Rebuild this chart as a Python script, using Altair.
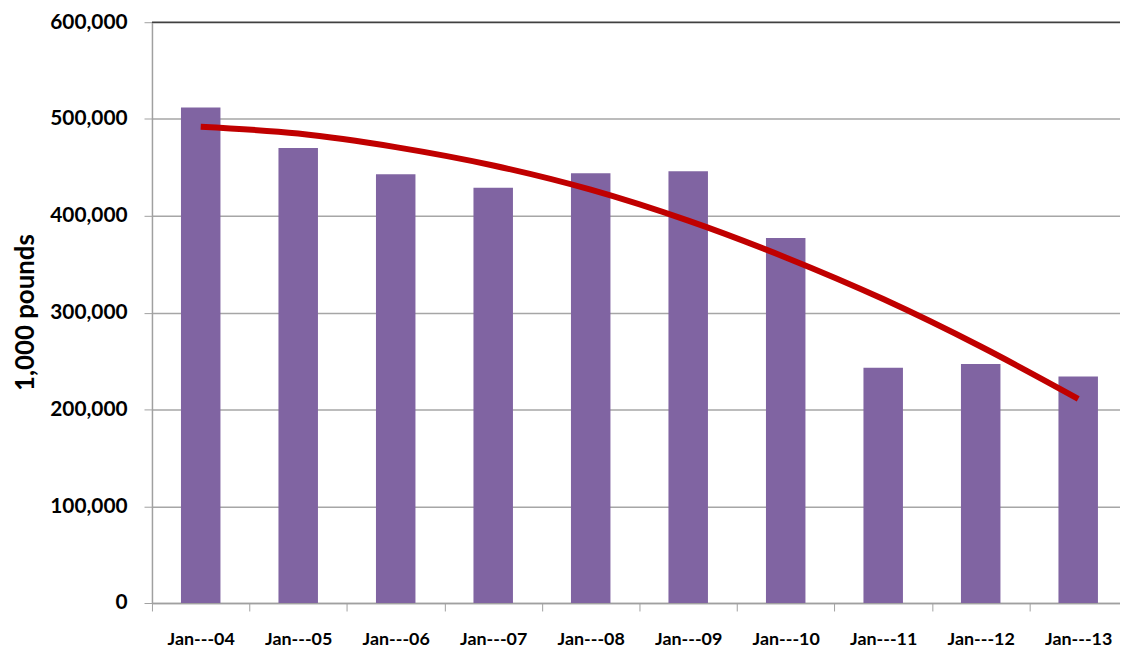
import altair as alt
import pandas as pd

categories = ["Jan---04", "Jan---05", "Jan---06", "Jan---07", "Jan---08",
              "Jan---09", "Jan---10", "Jan---11", "Jan---12", "Jan---13"]
values = [512000, 470000, 443000, 429000, 444000, 446000, 377000, 243000, 247000, 234000]
trend = [492000, 485000, 471000, 452000, 427000, 395000, 357000, 314000, 265000, 211000]
y_ticks = [0, 100000, 200000, 300000, 400000, 500000, 600000]
top_line = [600000]

df = pd.DataFrame({"month": categories, "value": values, "trend": trend})
df_top = pd.DataFrame({"v": top_line})

FONT = "Lato"

xscale = alt.Scale(paddingInner=0, paddingOuter=0, range=[0, 982])

xenc = alt.X(
    "month:N", sort=categories, title=None, scale=xscale,
    axis=alt.Axis(
        labelFont=FONT, labelFontWeight="bold", labelFontSize=18, labelColor="#000000",
        labelAngle=0, labelPadding=20, tickBand="extent", tickSize=8,
        tickColor="#a0a0a0", domainColor="#a0a0a0", domainWidth=1.5, grid=False,
    ),
)

yscale = alt.Scale(domain=[0, 600000], nice=False)
yaxis = alt.Axis(
    values=y_ticks, format=",d", title="1,000 pounds",
    labelFont=FONT, labelFontWeight="bold", labelFontSize=21, labelColor="#000000",
    labelPadding=17, tickSize=8, tickColor="#a0a0a0", domainColor="#a0a0a0",
    domainWidth=1.5, gridColor="#a6a6a6", gridWidth=1.5,
    titleFont=FONT, titleFontWeight="bold", titleFontSize=26, titleColor="#000000",
    titleAngle=-90, titleX=-127, titleY=292, titleAlign="center", titleBaseline="middle",
)

bars = alt.Chart(df).mark_bar(color="#8064A2", width=alt.RelativeBandSize(0.405)).encode(
    x=xenc,
    y=alt.Y("value:Q", scale=yscale, axis=yaxis),
)

line = alt.Chart(df).mark_line(color="#C00000", strokeWidth=6, interpolate="monotone").encode(
    x=alt.X("month:N", sort=categories, scale=xscale),
    y=alt.Y("trend:Q", scale=yscale),
)

top = alt.Chart(df_top).mark_rule(color="#404040", strokeWidth=1.5).encode(
    y=alt.Y("v:Q", scale=yscale),
)

chart = alt.layer(bars, line, top).properties(
    width=975, height=585,
    padding={"left": 145, "top": 12, "right": 0, "bottom": 46},
    autosize="none",
).configure_view(stroke=None).configure(background="#ffffff")

chart.save("out.html", embed_options={"renderer": "svg", "actions": False})
